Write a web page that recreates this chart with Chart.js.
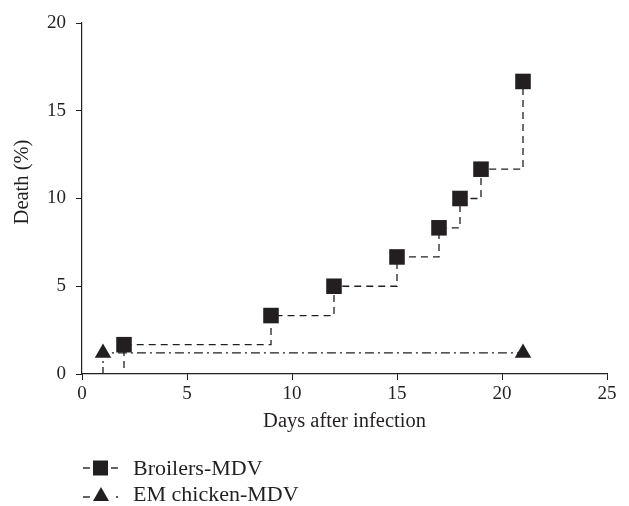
<!DOCTYPE html>
<html>
<head>
<meta charset="utf-8">
<script src="https://cdn.jsdelivr.net/npm/chart.js@4"></script>
<style>
  html,body{margin:0;padding:0;background:#fff;}
  #wrap{position:relative;width:629px;height:506px;}
  #legend{position:absolute;left:83px;top:455px;font-family:"Liberation Serif","DejaVu Serif",serif;font-size:22px;color:#231f20;}
  .item{display:flex;align-items:center;height:26px;line-height:26px;}
  .item svg{margin-right:15px;}
</style>
</head>
<body>
<div id="wrap">
  <canvas id="c" width="629" height="506"></canvas>
  <div id="legend">
    <div class="item">
      <svg width="35" height="18"><line x1="0" y1="9" x2="7" y2="9" stroke="#231f20" stroke-width="1.4"/><rect x="10" y="1.5" width="15" height="15" fill="#231f20"/><line x1="28" y1="9" x2="35" y2="9" stroke="#231f20" stroke-width="1.4"/></svg>
      <span>Broilers-MDV</span>
    </div>
    <div class="item">
      <svg width="35" height="18"><line x1="0" y1="12" x2="7" y2="12" stroke="#231f20" stroke-width="1.4"/><polygon points="18,2 26,16 10,16" fill="#231f20"/><line x1="33" y1="12" x2="35" y2="12" stroke="#231f20" stroke-width="1.4"/></svg>
      <span>EM chicken-MDV</span>
    </div>
  </div>
</div>
<script>
const broilerDays = [0, 2, 9, 12, 15, 17, 18, 19, 21];
const broilerDeath = [0, 1.67, 3.33, 5, 6.67, 8.33, 10, 11.67, 16.67];
const emDays = [0, 1, 21];
const emDeath = [0, 1.2, 1.2];
const xTicks = [0, 5, 10, 15, 20, 25];
const yTicks = [0, 5, 10, 15, 20];
const yTitle = 'Death (%)';
const xTitle = 'Days after infection';

const ink = '#231f20';
const family = '"Liberation Serif","DejaVu Serif",serif';
const tickFont = {family: family, size: 19};
const titleFont = {family: family, size: 20.5};

const yTitlePlugin = {
  id: 'yTitle',
  afterDraw(chart) {
    const a = chart.chartArea;
    const ctx = chart.ctx;
    ctx.save();
    ctx.translate(23, a.top + (a.bottom - a.top) * 0.453);
    ctx.rotate(-Math.PI / 2);
    ctx.fillStyle = ink;
    ctx.font = titleFont.size + 'px ' + family;
    ctx.textAlign = 'center';
    ctx.textBaseline = 'middle';
    ctx.fillText(yTitle, 0, 0);
    ctx.restore();
  }
};

new Chart(document.getElementById('c'), {
  type: 'line',
  data: {
    datasets: [
      {
        label: 'Broilers-MDV',
        data: broilerDays.map((d, i) => ({x: d, y: broilerDeath[i]})),
        stepped: 'before',
        borderColor: ink,
        backgroundColor: ink,
        borderWidth: 1.3,
        borderDash: [7, 5],
        pointStyle: 'rect',
        pointRadius: broilerDays.map(d => d === 0 ? 0 : 11),
        pointBorderWidth: 0,
        fill: false
      },
      {
        label: 'EM chicken-MDV',
        data: emDays.map((d, i) => ({x: d, y: emDeath[i]})),
        stepped: 'before',
        borderColor: ink,
        backgroundColor: ink,
        borderWidth: 1.3,
        borderDash: [9, 4, 2, 4],
        pointStyle: 'triangle',
        pointRadius: emDays.map(d => d === 0 ? 0 : 9.5),
        pointBorderWidth: 0,
        fill: false
      }
    ]
  },
  options: {
    responsive: false,
    animation: false,
    layout: {padding: {left: 0, right: 22, top: 23, bottom: 72}},
    plugins: {legend: {display: false}, tooltip: {enabled: false}},
    scales: {
      x: {
        type: 'linear',
        min: 0, max: 25,
        afterBuildTicks: s => { s.ticks = xTicks.map(v => ({value: v})); },
        afterFit: s => { s.height = 60; },
        ticks: {color: ink, font: tickFont, padding: 3},
        grid: {drawOnChartArea: false, tickLength: 6, color: ink},
        border: {color: ink, width: 1.2},
        title: {display: true, text: xTitle, color: ink, font: titleFont, padding: {top: 0, bottom: 0}}
      },
      y: {
        type: 'linear',
        min: 0, max: 20,
        afterBuildTicks: s => { s.ticks = yTicks.map(v => ({value: v})); },
        afterFit: s => { s.width = 82; },
        ticks: {color: ink, font: tickFont, padding: 10},
        grid: {drawOnChartArea: false, tickLength: 6, color: ink},
        border: {color: ink, width: 1.2},
        title: {display: false}
      }
    }
  },
  plugins: [yTitlePlugin]
});
</script>
</body>
</html>
